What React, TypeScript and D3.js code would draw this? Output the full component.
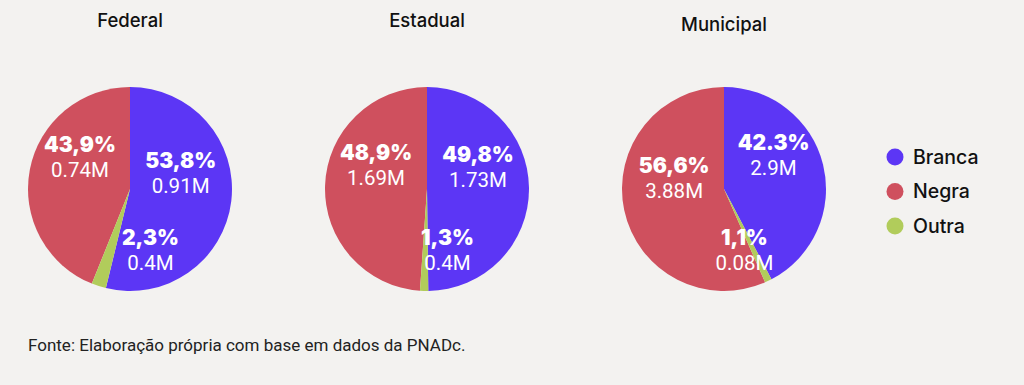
import React from "react";
import * as d3 from "d3";

// esferas de governo (um gráfico de pizza por esfera)
const spheres = ["Federal", "Estadual", "Municipal"];
const groups = ["Branca", "Negra", "Outra"];
// ordem das fatias no sentido horário a partir do topo
const sliceOrder = ["Branca", "Outra", "Negra"];

// percentuais por grupo (Branca, Negra, Outra)
const pctFederal = [53.8, 43.9, 2.3];
const pctEstadual = [49.8, 48.9, 1.3];
const pctMunicipal = [42.3, 56.6, 1.1];

// rótulos como aparecem no original
const pctLabelsFederal = ["53,8%", "43,9%", "2,3%"];
const pctLabelsEstadual = ["49,8%", "48,9%", "1,3%"];
const pctLabelsMunicipal = ["42.3%", "56,6%", "1,1%"];

const millionsFederal = ["0.91M", "0.74M", "0.4M"];
const millionsEstadual = ["1.73M", "1.69M", "0.4M"];
const millionsMunicipal = ["2.9M", "3.88M", "0.08M"];

const source = "Fonte: Elaboração própria com base em dados da PNADc.";

const colors = ["#5c36f5", "#cf505e", "#b1cc5b"];

const W = 1024;
const H = 385;
const R = 102;
const CY = 189;

export default function App() {
  const pcts = [pctFederal, pctEstadual, pctMunicipal];
  const pctLabels = [pctLabelsFederal, pctLabelsEstadual, pctLabelsMunicipal];
  const mLabels = [millionsFederal, millionsEstadual, millionsMunicipal];

  const x = d3.scalePoint<string>().domain(spheres).range([130, 724]);
  const color = d3.scaleOrdinal<string, string>().domain(groups).range(colors);

  const pie = d3
    .pie<{ group: string; value: number }>()
    .value((d) => d.value)
    .sort((a, b) => sliceOrder.indexOf(a.group) - sliceOrder.indexOf(b.group));

  const arc = d3.arc<d3.PieArcDatum<any>>().innerRadius(0).outerRadius(R);
  const labelArc = d3.arc<d3.PieArcDatum<any>>().innerRadius(R * 0.5).outerRadius(R * 0.5);

  const legendY = d3.scalePoint<string>().domain(groups).range([157, 226]);

  return (
    <svg
      width={W}
      height={H}
      style={{ position: "absolute", left: 0, top: 0, display: "block" }}
    >
      <rect width={W} height={H} fill="#f3f2f0" />

      {spheres.map((s, si) => {
        const cx = x(s)!;
        const data = groups.map((g, gi) => ({
          group: g,
          value: pcts[si][gi],
          pct: pctLabels[si][gi],
          m: mLabels[si][gi],
        }));
        const arcs = pie(data);
        return (
          <g key={s}>
            <text
              x={cx}
              y={s === "Municipal" ? 31 : 27}
              textAnchor="middle"
              fontFamily="Inter, sans-serif"
              fontWeight={500}
              fontSize={18.5}
              fill="#111"
            >
              {s}
            </text>
            <g transform={`translate(${cx},${CY})`}>
              {arcs.map((a) => (
                <path key={a.data.group} d={arc(a)!} fill={color(a.data.group)} />
              ))}
              {arcs.map((a) => {
                const d = a.data as any;
                let lx: number;
                let ly: number;
                if (a.endAngle - a.startAngle < 0.3) {
                  // fatia pequena: rótulo logo abaixo do centro
                  lx = R * 0.2;
                  ly = R * 0.55;
                } else {
                  const c = labelArc.centroid(a);
                  lx = c[0];
                  ly = c[1] - 27;
                }
                return (
                  <g key={"l" + d.group} fill="#fff" textAnchor="middle">
                    <text
                      x={lx}
                      y={ly}
                      fontFamily="Inter, sans-serif"
                      fontWeight={900}
                      fontSize={21}
                    >
                      {d.pct}
                    </text>
                    <text
                      x={lx}
                      y={ly + 25}
                      fontFamily="Roboto, sans-serif"
                      fontSize={20.5}
                    >
                      {d.m}
                    </text>
                  </g>
                );
              })}
            </g>
          </g>
        );
      })}

      {groups.map((g) => (
        <g key={g} transform={`translate(895,${legendY(g)})`}>
          <circle r={8.5} fill={color(g)} />
          <text
            x={18}
            y={6.5}
            fontFamily="Inter, sans-serif"
            fontWeight={500}
            fontSize={19.5}
            fill="#111"
          >
            {g}
          </text>
        </g>
      ))}

      <text
        x={28}
        y={351}
        fontFamily="Roboto, sans-serif"
        fontSize={17}
        fill="#222"
      >
        {source}
      </text>
    </svg>
  );
}
